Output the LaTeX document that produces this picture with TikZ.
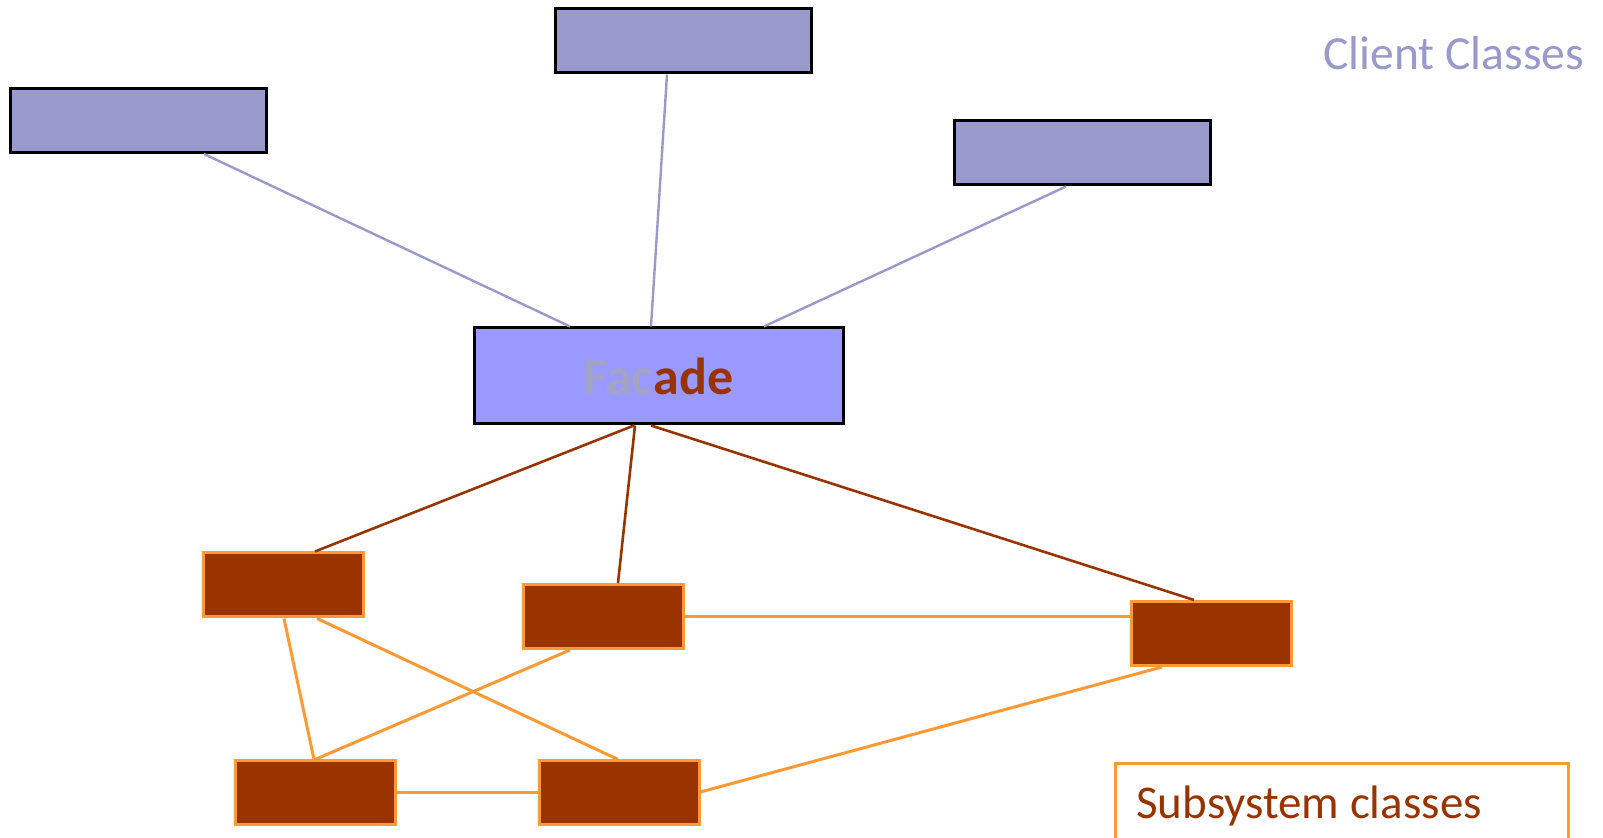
\documentclass[tikz,border=0pt]{standalone}
\usepackage{fontspec}
\setmainfont{Carlito}
\usetikzlibrary{calc}
\definecolor{clientfill}{HTML}{9999CC}
\definecolor{facadefill}{HTML}{9999FF}
\definecolor{facgrey}{HTML}{A3A3C6}
\definecolor{subbrown}{HTML}{993300}
\definecolor{suborange}{HTML}{FF9933}
\tikzset{
  clientbox/.style={draw=black, fill=clientfill, line width=1.5pt, minimum width=128pt, minimum height=32pt, inner sep=0pt},
  facadebox/.style={draw=black, fill=facadefill, line width=1.5pt, minimum width=184.5pt, minimum height=48pt, inner sep=0pt, font=\fontsize{26}{30}\selectfont\bfseries},
  subbox/.style={draw=suborange, fill=subbrown, line width=1.5pt, minimum width=80pt, minimum height=32pt, inner sep=0pt},
  clientline/.style={draw=clientfill, line width=1.2pt},
  facline/.style={draw=subbrown, line width=1.3pt},
  subline/.style={draw=suborange, line width=1.5pt},
  labeltext/.style={font=\fontsize{23.8}{28}\selectfont, inner sep=0pt}
}
\begin{document}
\begin{tikzpicture}[x=0.5pt,y=-0.5pt]
\useasboundingbox (0,0) rectangle (1603,838);
\clip (0,0) rectangle (1603,838);
% client classes
\node[clientbox] (c1) at (138.5,120.5) {};
\node[clientbox] (c2) at (683,41) {};
\node[clientbox] (c3) at (1082.5,153) {};
% facade
\node[facadebox] (fac) at (658.5,376) {\textcolor{facgrey}{Fac}\textcolor{subbrown}{ade}};
% subsystem classes
\node[subbox] (s1) at (283,585) {};
\node[subbox] (s2) at (603,616.5) {};
\node[subbox] (s3) at (1211,633.5) {};
\node[subbox] (s4) at (315,793) {};
\node[subbox] (s5) at (619,793) {};
% labels
\node[labeltext, text=clientfill, anchor=base west] (cl) at (1323,70) {Client Classes};
\node[draw=suborange, line width=1.4pt, anchor=north west, inner xsep=10.5pt, inner ysep=0pt, minimum height=43pt, text=subbrown, font=\fontsize{23.5}{28}\selectfont] (sl) at (1114,762) {\makebox[205.5pt][l]{Subsystem classes}};
% client connectors
\draw[clientline] ($(c1.south)+(65.5,0)$) -- ($(fac.north)+(-88.5,0)$);
\draw[clientline] ($(c2.south)+(-16,0)$) -- ($(fac.north)+(-7.5,0)$);
\draw[clientline] ($(c3.south)+(-16.5,0)$) -- ($(fac.north)+(105.5,0)$);
% facade connectors
\draw[facline] ($(fac.south)+(-24.5,0)$) -- ($(s1.north)+(32,0)$);
\draw[facline] ($(fac.south)+(-23.5,0)$) -- ($(s2.north)+(15,0)$);
\draw[facline] ($(fac.south)+(-7.5,0)$) -- ($(s3.north)+(-17,0)$);
% subsystem connectors
\draw[subline] (s2.east) -- (s2.east -| s3.west);
\draw[subline] ($(s1.south)+(1,0)$) -- ($(s4.north)+(-1,0)$);
\draw[subline] ($(s1.south)+(34,0)$) -- ($(s5.north)+(-1,0)$);
\draw[subline] ($(s2.south)+(-33,0)$) -- (s4.north);
\draw[subline] ($(s3.south)+(-49,0)$) -- ($(s5.east)+(0,-1)$);
\draw[subline] (s4.east) -- (s5.west);
\end{tikzpicture}
\end{document}
